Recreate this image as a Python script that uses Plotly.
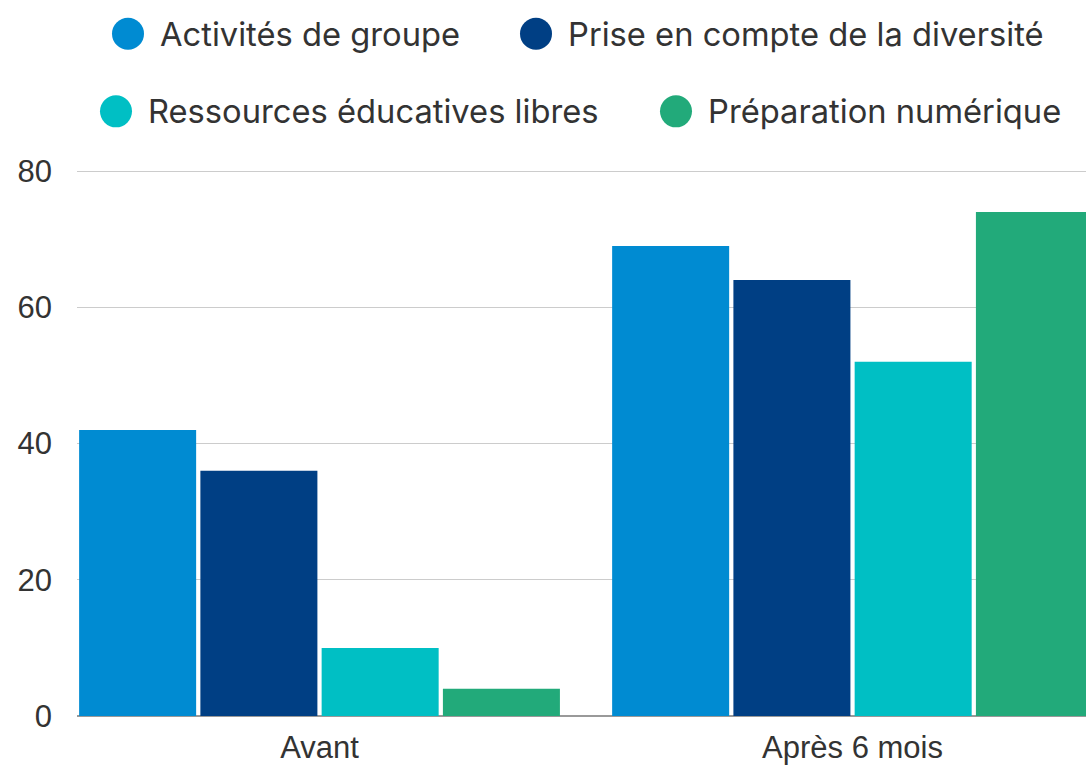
import plotly.graph_objects as go

categories = ["Avant", "Après 6 mois"]
series_names = ["Activités de groupe", "Prise en compte de la diversité",
                "Ressources éducatives libres", "Préparation numérique"]
activites = [42, 69]
diversite = [36, 64]
ressources = [10, 52]
preparation = [4, 74]
colors = ["#008BD2", "#003F84", "#00BFC4", "#22AA7A"]
y_ticks = [0, 20, 40, 60, 80]

W, H = 1086, 765
ML, MR, MT, MB = 77, 0, 170, 46
PW, PH = W - ML - MR, H - MT - MB

fig = go.Figure()
for name, vals, col in zip(series_names, [activites, diversite, ressources, preparation], colors):
    fig.add_trace(go.Bar(name=name, x=[0, 1], y=vals, marker_color=col,
                         marker_line_width=0, showlegend=False))

def px2paper(px, py):
    return (px - ML) / PW, (H - MB - py) / PH

# custom legend (circles + labels)
legend_pos = [(128, 33), (536, 33), (116, 111), (676, 111)]
shapes, annos = [], []
for (cx, cy), name, col in zip(legend_pos, series_names, colors):
    xp, yp = px2paper(cx, cy)
    shapes.append(dict(type="circle", xref="paper", yref="paper",
                       xsizemode="pixel", ysizemode="pixel",
                       xanchor=xp, yanchor=yp, x0=-16, x1=16, y0=-16, y1=16,
                       fillcolor=col, line_width=0))
    tx, _ = px2paper(cx + 30, cy)
    annos.append(dict(text=name, xref="paper", yref="paper", x=tx, y=yp,
                      xanchor="left", yanchor="middle", showarrow=False,
                      font=dict(family="Inter", size=32.7, color="#333333")))

fig.update_layout(
    width=W, height=H,
    margin=dict(l=ML, r=MR, t=MT, b=MB, pad=0),
    paper_bgcolor="white", plot_bgcolor="white",
    barmode="group", bargap=0.09, bargroupgap=0.035,
    shapes=shapes, annotations=annos,
    xaxis=dict(tickmode="array", tickvals=[0, 1], ticktext=categories,
               range=[-0.455, 1.438], showgrid=False, zeroline=False,
               showline=False, ticks="", ticklabelstandoff=10,
               tickfont=dict(family="Liberation Sans", size=31, color="#333333")),
    yaxis=dict(range=[0, 80.15], tickvals=y_ticks, showgrid=True,
               gridcolor="#CCCCCC", gridwidth=1, zeroline=True,
               zerolinecolor="#999999", zerolinewidth=2, showline=False,
               ticks="", ticklabelstandoff=24,
               tickfont=dict(family="Liberation Sans", size=31, color="#333333")),
)

fig.write_html("out.html", config={"displayModeBar": False},
               post_script="document.body.style.margin='0';document.body.style.overflow='hidden';")
